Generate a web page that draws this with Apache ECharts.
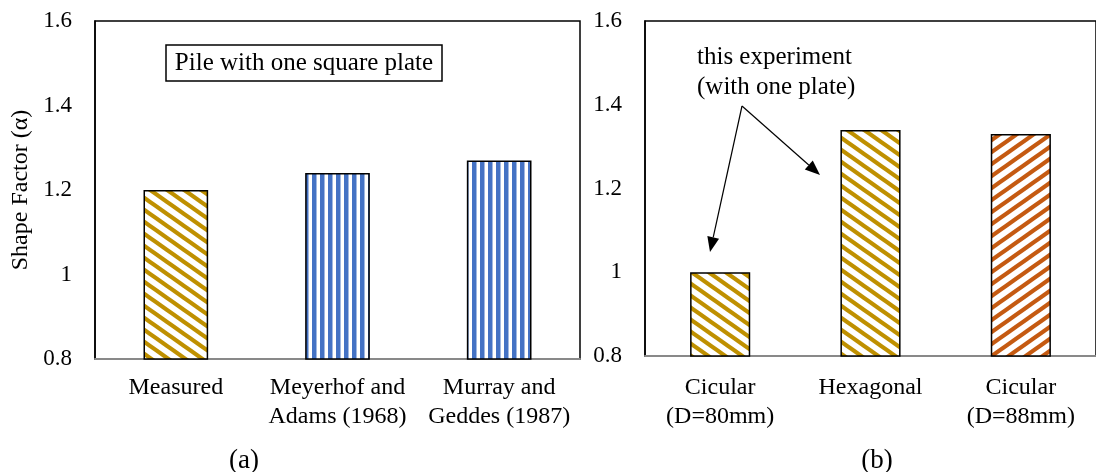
<!DOCTYPE html>
<html>
<head>
<meta charset="utf-8">
<script src="https://cdn.jsdelivr.net/npm/echarts@6/dist/echarts.min.js"></script>
<style>
    html, body { margin: 0; padding: 0; background: #fff; }
    #main { width: 1096px; height: 472px; }
</style>
</head>
<body>
<div id="main"></div>
<script>
// (a) pile with one square plate
var catsA = ['Measured', 'Meyerhof and\nAdams (1968)', 'Murray and\nGeddes (1987)'];
var valsA = [1.2, 1.24, 1.27];
// (b) plate shapes
var catsB = ['Cicular\n(D=80mm)', 'Hexagonal', 'Cicular\n(D=88mm)'];
var valsB = [1.0, 1.34, 1.33];
var yMin = 0.8, yMax = 1.6, yStep = 0.2;

var serif = '"Liberation Serif", "Times New Roman", serif';

// hatch fills like the excel ones
function hatch(color, kind) {
    var c = document.createElement('canvas');
    var g = c.getContext('2d');
    if (kind == 'v') {
        c.width = 8; c.height = 8;
        g.fillStyle = '#fff';
        g.fillRect(0, 0, 8, 8);
        g.fillStyle = color;
        g.fillRect(0, 0, 4.5, 8);
        return c;
    }
    c.width = 17; c.height = 12;
    g.fillStyle = '#fff';
    g.fillRect(0, 0, 17, 12);
    g.strokeStyle = color;
    g.lineWidth = 4.2;
    for (var k = -2; k <= 2; k++) {
        g.beginPath();
        if (kind == 'down') {
            g.moveTo(k * 17 - 17, -12);
            g.lineTo(k * 17 + 34, 24);
        } else {
            g.moveTo(k * 17 - 17, 24);
            g.lineTo(k * 17 + 34, -12);
        }
        g.stroke();
    }
    return c;
}

var gold = { image: hatch('#BF9000', 'down'), repeat: 'repeat' };
var blue = { image: hatch('#4472C4', 'v'), repeat: 'repeat' };
var orange = { image: hatch('#C55A11', 'up'), repeat: 'repeat' };

var fillsA = [gold, blue, blue];
var fillsB = [gold, gold, orange];

function barData(vals, fills) {
    return vals.map(function (v, i) {
        return { value: v, itemStyle: { color: fills[i] } };
    });
}

function arrow(x1, y1, x2, y2) {
    var a = Math.atan2(y2 - y1, x2 - x1);
    var len = 15, w = 6;
    var bx = x2 - len * Math.cos(a), by = y2 - len * Math.sin(a);
    return [
        { type: 'line', shape: { x1: x1, y1: y1, x2: bx, y2: by }, style: { stroke: '#000', lineWidth: 1.2 } },
        {
            type: 'polygon',
            shape: { points: [[x2, y2], [bx + w * Math.sin(a), by - w * Math.cos(a)], [bx - w * Math.sin(a), by + w * Math.cos(a)]] },
            style: { fill: '#000' }
        }
    ];
}

var myChart = echarts.init(document.getElementById('main'));

var yAxisBase = {
    type: 'value',
    min: yMin,
    max: yMax,
    interval: yStep,
    axisLine: { show: true, lineStyle: { color: '#000', width: 1.5 } },
    axisTick: { show: false },
    splitLine: { show: false },
    axisLabel: { color: '#000', fontFamily: serif, fontSize: 23, margin: 23 }
};

var xAxisBase = {
    type: 'category',
    axisTick: { show: false },
    axisLine: { lineStyle: { color: '#898989', width: 2 } },
    axisLabel: { interval: 0, color: '#000', fontFamily: serif, fontSize: 24, lineHeight: 29 }
};

var graphics = [
    { type: 'rect', shape: { x: 166, y: 45, width: 276, height: 36 }, style: { fill: '#fff', stroke: '#000', lineWidth: 1.5 } },
    { type: 'text', style: { x: 304, y: 63, text: 'Pile with one square plate', font: '25px ' + serif, fill: '#000', align: 'center', verticalAlign: 'middle' } },
    { type: 'text', style: { x: 697, y: 42, text: 'this experiment\n(with one plate)', font: '25px ' + serif, lineHeight: 30, fill: '#000', align: 'left', verticalAlign: 'top' } },
    { type: 'text', style: { x: 244, y: 461, text: '(a)', font: '27px ' + serif, fill: '#000', align: 'center', verticalAlign: 'middle' } },
    { type: 'text', style: { x: 877, y: 461, text: '(b)', font: '27px ' + serif, fill: '#000', align: 'center', verticalAlign: 'middle' } }
].concat(arrow(742, 106, 710, 252), arrow(742, 106, 820, 175));

option = {
    animation: false,
    backgroundColor: '#fff',
    grid: [
        { left: 95, top: 21, width: 485, height: 338, show: true, borderColor: '#000', borderWidth: 1.5 },
        { left: 645, top: 21, width: 461, height: 335, show: true, borderColor: '#000', borderWidth: 1.5 }
    ],
    xAxis: [
        echarts.util.merge({ gridIndex: 0, data: catsA, axisLabel: { margin: 14 } }, xAxisBase),
        echarts.util.merge({ gridIndex: 1, data: catsB, axisLabel: { margin: 17 } }, xAxisBase)
    ],
    yAxis: [
        echarts.util.merge({
            gridIndex: 0,
            name: 'Shape Factor (\u03b1)',
            nameLocation: 'middle',
            nameRotate: 90,
            nameGap: 62,
            nameTextStyle: { color: '#000', fontFamily: serif, fontSize: 24 }
        }, yAxisBase),
        echarts.util.merge({ gridIndex: 1 }, yAxisBase)
    ],
    series: [
        {
            type: 'bar',
            xAxisIndex: 0,
            yAxisIndex: 0,
            barWidth: '40%',
            itemStyle: { borderColor: '#000', borderWidth: 1.5 },
            data: barData(valsA, fillsA)
        },
        {
            type: 'bar',
            xAxisIndex: 1,
            yAxisIndex: 1,
            barWidth: '40%',
            itemStyle: { borderColor: '#000', borderWidth: 1.5 },
            data: barData(valsB, fillsB)
        }
    ],
    graphic: graphics
};
myChart.setOption(option);
</script>
</body>
</html>
